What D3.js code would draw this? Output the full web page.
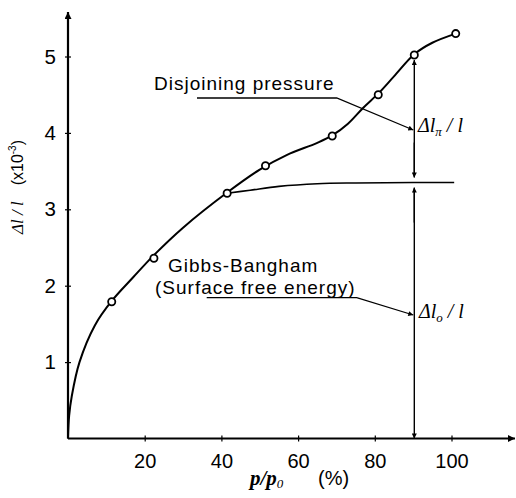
<!DOCTYPE html>
<html><head><meta charset="utf-8">
<script src="https://cdn.jsdelivr.net/npm/d3@7"></script>
<style>
html,body{margin:0;padding:0;background:#fff;}
svg{display:block;}
.sans{font-family:"Liberation Sans",Arial,sans-serif;}
.serif{font-family:"Liberation Serif","DejaVu Serif",serif;}
</style>
</head><body>
<svg id="c" width="516" height="498"></svg>
<script>
// measured points
const pointX = [11.4, 22.4, 41.5, 51.5, 68.9, 80.9, 90.3, 101.1];
const pointY = [1.79, 2.36, 3.21, 3.57, 3.96, 4.50, 5.02, 5.30];
// total curve (smooth fit)
const curveX = [0, 0.3, 1, 3, 7, 11.4, 17, 22.4, 30, 41.5, 50, 57, 65, 69, 73, 77, 81, 85, 90.3, 95, 101.1];
const curveY = [0, 0.3, 0.56, 1.0, 1.48, 1.80, 2.11, 2.40, 2.76, 3.22, 3.52, 3.71, 3.87, 3.97, 4.12, 4.33, 4.52, 4.74, 5.03, 5.18, 5.30];
// Gibbs-Bangham curve
const gibbsX = [41.5, 47.5, 55, 65, 75, 90, 100.7];
const gibbsY = [3.21, 3.25, 3.30, 3.335, 3.345, 3.35, 3.35];
const xTicks = [20, 40, 60, 80, 100];
const yTicks = [1, 2, 3, 4, 5];
const markX = 90.3;
const markTop = 5.02;

const svg = d3.select("#c");
const x = d3.scaleLinear().domain([0, 100]).range([68, 451.5]);
const y = d3.scaleLinear().domain([0, 5]).range([438.5, 56.5]);

const defs = svg.append("defs");
function marker(id, w, h) {
  defs.append("marker").attr("id", id).attr("viewBox", "0 0 10 10")
    .attr("refX", 10).attr("refY", 5).attr("markerWidth", w).attr("markerHeight", h)
    .attr("markerUnits", "userSpaceOnUse").attr("orient", "auto")
    .append("path").attr("d", "M0,0 L10,5 L0,10 z").attr("fill", "#000");
}
marker("ax", 12, 7);
marker("ar", 8, 5);

// axes lines with arrows
svg.append("line").attr("x1", x(0)).attr("y1", y(0)).attr("x2", x(0)).attr("y2", 12)
  .attr("stroke", "#000").attr("stroke-width", 2.2).attr("marker-end", "url(#ax)");
svg.append("line").attr("x1", x(0)).attr("y1", y(0)).attr("x2", 515).attr("y2", y(0))
  .attr("stroke", "#000").attr("stroke-width", 2.2).attr("marker-end", "url(#ax)");

const xAxis = svg.append("g").attr("transform", `translate(0,${y(0)})`)
  .call(d3.axisBottom(x).tickValues(xTicks).tickFormat(d3.format("d")).tickSizeInner(3).tickSizeOuter(0).tickPadding(12));
xAxis.select(".domain").remove();
xAxis.selectAll(".tick line").attr("y1", -3).attr("stroke-width", 1.2);
xAxis.selectAll("text").attr("class", "sans").attr("font-size", 20).attr("fill", "#000").attr("font-family", null);

const yAxis = svg.append("g").attr("transform", `translate(${x(0)},0)`)
  .call(d3.axisLeft(y).tickValues(yTicks).tickFormat(d3.format("d")).tickSizeInner(3).tickSizeOuter(0).tickPadding(9));
yAxis.select(".domain").remove();
yAxis.selectAll(".tick line").attr("x1", 3).attr("stroke-width", 1.2);
yAxis.selectAll("text").attr("class", "sans").attr("font-size", 20.5).attr("fill", "#000").attr("font-family", null);

// curves
const line = d3.line().x(d => x(d[0])).y(d => y(d[1])).curve(d3.curveCatmullRom.alpha(0.5));
svg.append("path").datum(curveX.map((v, i) => [v, curveY[i]]))
  .attr("d", line).attr("fill", "none").attr("stroke", "#000").attr("stroke-width", 2);
svg.append("path").datum(gibbsX.map((v, i) => [v, gibbsY[i]]))
  .attr("d", line).attr("fill", "none").attr("stroke", "#000").attr("stroke-width", 1.6);

// vertical dimension line with arrows
const hY = y(gibbsY[gibbsY.length - 1]);
const vline = (y1, y2) => svg.append("line").attr("x1", x(markX)).attr("x2", x(markX))
  .attr("y1", y1).attr("y2", y2).attr("stroke", "#000").attr("stroke-width", 1.4).attr("marker-end", "url(#ar)");
vline(hY - 6, y(markTop) + 5);
vline(hY - 40, hY - 5);
vline(hY + 40, hY + 5);
vline(hY + 6, y(0));

// points
svg.selectAll("circle.pt").data(pointX.map((v, i) => [v, pointY[i]])).join("circle")
  .attr("class", "pt").attr("cx", d => x(d[0])).attr("cy", d => y(d[1])).attr("r", 3.6)
  .attr("fill", "#fff").attr("stroke", "#000").attr("stroke-width", 1.8);

// leaders
svg.append("polyline").attr("points", `197,98 336.7,98 ${x(markX) - 1},130`)
  .attr("fill", "none").attr("stroke", "#000").attr("stroke-width", 1.3).attr("marker-end", "url(#ar)");
svg.append("polyline").attr("points", `206.7,297.7 356.7,297.7 ${x(markX) - 1},315`)
  .attr("fill", "none").attr("stroke", "#000").attr("stroke-width", 1.3).attr("marker-end", "url(#ar)");

// annotation texts
const ann = (tx, ty, s) => svg.append("text").attr("class", "sans").attr("x", tx).attr("y", ty)
  .attr("font-size", 19).attr("letter-spacing", 1).text(s);
ann(154, 90, "Disjoining pressure");
ann(168, 272, "Gibbs-Bangham");
ann(155, 294, "(Surface free energy)");

function deltaLabel(tx, ty, sub) {
  const t = svg.append("text").attr("class", "serif").attr("x", tx).attr("y", ty).attr("font-size", 20).attr("font-style", "italic");
  t.append("tspan").text("Δ");
  t.append("tspan").text("l");
  t.append("tspan").attr("font-size", 13).attr("dy", 4).text(sub);
  t.append("tspan").attr("dy", -4).text(" / l");
}
deltaLabel(418, 132, "π");
deltaLabel(419, 318, "o");

// axis titles
const xt = svg.append("text").attr("x", 250).attr("y", 485).attr("font-size", 21);
xt.append("tspan").attr("class", "serif").attr("font-style", "italic").attr("font-weight", "bold").text("p/p");
xt.append("tspan").attr("class", "serif").attr("font-style", "italic").attr("font-size", 13).attr("dy", 3).text("0");
xt.append("tspan").attr("class", "sans").attr("x", 318).attr("dy", -3).attr("font-size", 20).text("(%)");

const yt = svg.append("text").attr("transform", "translate(23,234) rotate(-90)").attr("font-size", 17);
yt.append("tspan").attr("class", "serif").attr("font-style", "italic").text("Δl / l");
yt.append("tspan").attr("class", "sans").attr("font-size", 16).text("\u2002\u2002(x10");
yt.append("tspan").attr("class", "sans").attr("font-size", 10).attr("dy", -7).text("-3");
yt.append("tspan").attr("class", "sans").attr("font-size", 16).attr("dy", 7).text(")");
</script>
</body></html>
